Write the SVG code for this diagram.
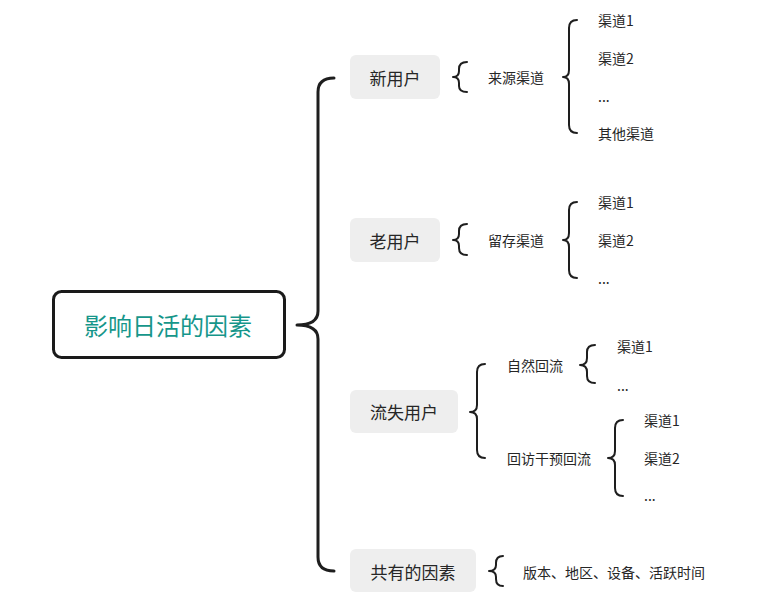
<svg xmlns="http://www.w3.org/2000/svg" width="780" height="611" viewBox="0 0 780 611">
<style>
.br{fill:none;stroke:#1e1e1e;stroke-width:2;stroke-linecap:round;stroke-linejoin:round}
.brm{fill:none;stroke:#1e1e1e;stroke-width:3;stroke-linecap:round;stroke-linejoin:round}
.nd{fill:#eeeeee}
text{font-family:"Noto Sans CJK SC","Noto Sans",sans-serif;fill:#262626;dominant-baseline:central}
.t1{font-size:17px;text-anchor:middle}
.t2{font-size:14px}
.root{font-size:24px;fill:#16968a;text-anchor:middle}
</style>
<rect width="780" height="611" fill="#ffffff"/>
<g id="connectors">
<path class="brm" d="M334,78 Q318,78 318,92 L318,311 Q318,325 297,325 Q318,325 318,339 L318,557 Q318,571 334,571"/>
<path class="br" d="M467,62 Q459,62 459,69 L459,71 Q459,77 453,77 Q459,77 459,83 L459,86 Q459,92 467,92"/>
<path class="br" d="M577,20 Q569,20 569,28 L569,70 Q569,77 563,77 Q569,77 569,84 L569,125 Q569,133 577,133"/>
<path class="br" d="M467,224 Q459,224 459,231 L459,234 Q459,240 453,240 Q459,240 459,246 L459,248 Q459,255 467,255"/>
<path class="br" d="M577,202 Q569,202 569,210 L569,233 Q569,240 563,240 Q569,240 569,247 L569,270 Q569,278 577,278"/>
<path class="br" d="M485,364 Q477,364 477,372 L477,405 Q477,412 470,412 Q477,412 477,419 L477,450 Q477,458 485,458"/>
<path class="br" d="M595,345 Q587,345 587,352 L587,358 Q587,365 580,365 Q587,365 587,372 L587,376 Q587,383 595,383"/>
<path class="br" d="M623,420 Q615,420 615,428 L615,451 Q615,458 608,458 Q615,458 615,465 L615,488 Q615,496 623,496"/>
<path class="br" d="M503,556 Q496,556 496,563 L496,565 Q496,571 489,571 Q496,571 496,577 L496,579 Q496,586 503,586"/>
</g>
<g id="root">
<rect x="53.5" y="291.5" width="231" height="66" rx="8" fill="#ffffff" stroke="#1a1a1a" stroke-width="3"/>
<text class="root" x="168" y="324">影响日活的因素</text>
</g>
<g id="n-new">
<rect class="nd" x="350" y="55" width="90" height="44" rx="6"/>
<text class="t1" x="395" y="77">新用户</text>
</g>
<g id="n-new-src"><text class="t2" x="488" y="77">来源渠道</text></g>
<g id="n-new-c1"><text class="t2" x="598" y="20">渠道1</text></g>
<g id="n-new-c2"><text class="t2" x="598" y="58">渠道2</text></g>
<g id="n-new-c3"><text class="t2" x="598" y="96">...</text></g>
<g id="n-new-c4"><text class="t2" x="598" y="133">其他渠道</text></g>
<g id="n-old">
<rect class="nd" x="350" y="218" width="90" height="44" rx="6"/>
<text class="t1" x="395" y="240">老用户</text>
</g>
<g id="n-old-ret"><text class="t2" x="488" y="240">留存渠道</text></g>
<g id="n-old-c1"><text class="t2" x="598" y="202">渠道1</text></g>
<g id="n-old-c2"><text class="t2" x="598" y="240">渠道2</text></g>
<g id="n-old-c3"><text class="t2" x="598" y="278">...</text></g>
<g id="n-lost">
<rect class="nd" x="350" y="390" width="108" height="43" rx="6"/>
<text class="t1" x="404" y="411">流失用户</text>
</g>
<g id="n-lost-nat"><text class="t2" x="507" y="365">自然回流</text></g>
<g id="n-lost-nat-c1"><text class="t2" x="617" y="346">渠道1</text></g>
<g id="n-lost-nat-c2"><text class="t2" x="617" y="385">...</text></g>
<g id="n-lost-int"><text class="t2" x="507" y="458">回访干预回流</text></g>
<g id="n-lost-int-c1"><text class="t2" x="644" y="420">渠道1</text></g>
<g id="n-lost-int-c2"><text class="t2" x="644" y="458">渠道2</text></g>
<g id="n-lost-int-c3"><text class="t2" x="644" y="495">...</text></g>
<g id="n-common">
<rect class="nd" x="350" y="549" width="126" height="43" rx="6"/>
<text class="t1" x="413" y="571">共有的因素</text>
</g>
<g id="n-common-list"><text class="t2" x="523" y="572">版本、地区、设备、活跃时间</text></g>
</svg>
